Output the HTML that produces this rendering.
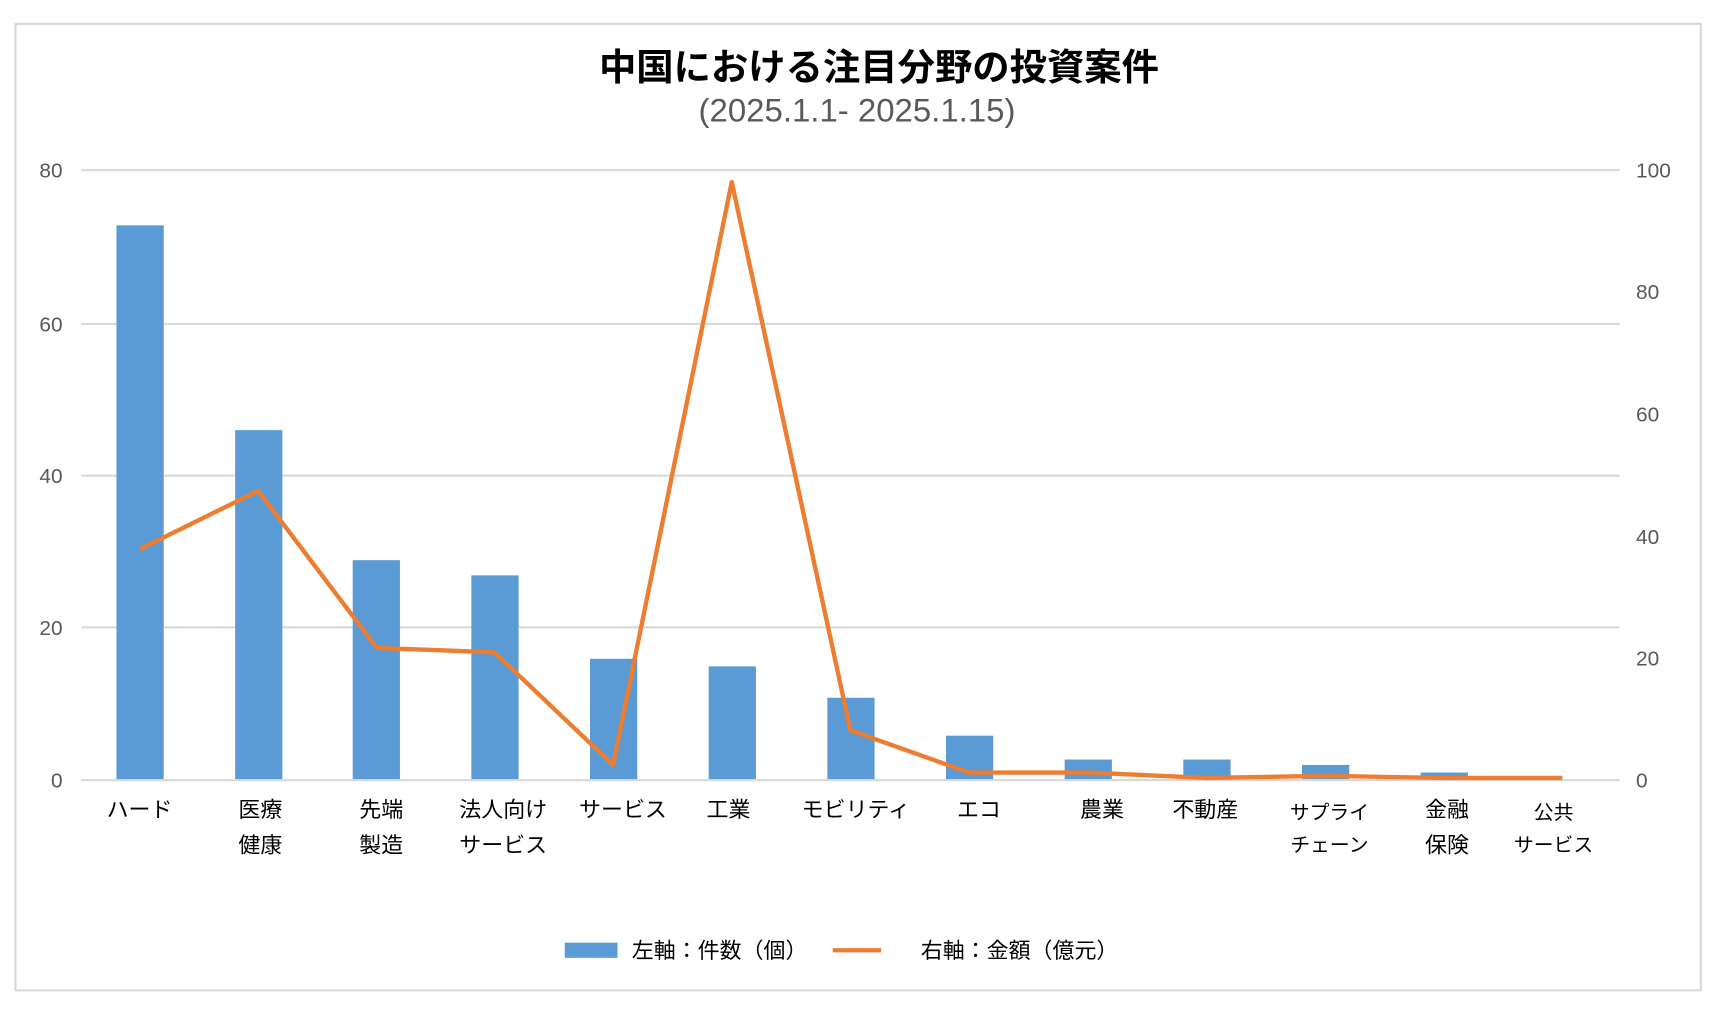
<!DOCTYPE html>
<html><head><meta charset="utf-8"><style>
html,body{margin:0;padding:0;background:#fff;}
svg{display:block;}
text{font-family:"Liberation Sans","Noto Sans CJK JP",sans-serif;}
</style></head><body>
<svg width="1714" height="1012" viewBox="0 0 1560 934" preserveAspectRatio="none" xmlns="http://www.w3.org/2000/svg">
<rect x="14" y="22" width="1534" height="892" fill="#fff" stroke="#d9d9d9" stroke-width="2"/>
<text x="800" y="74" text-anchor="middle" font-size="34" font-weight="bold" fill="#000">中国における注目分野の投資案件</text>
<text x="780" y="112" text-anchor="middle" font-size="30" fill="#595959">(2025.1.1- 2025.1.15)</text>
<g stroke="#d9d9d9" stroke-width="2">
<line x1="74" x2="1474" y1="157" y2="157"/>
<line x1="74" x2="1474" y1="299" y2="299"/>
<line x1="74" x2="1474" y1="439" y2="439"/>
<line x1="74" x2="1474" y1="579" y2="579"/>
<line x1="74" x2="1474" y1="720" y2="720"/>
</g>
<g font-size="19" fill="#595959" text-anchor="end">
<text x="57" y="164">80</text><text x="57" y="306">60</text><text x="57" y="446">40</text><text x="57" y="586">20</text><text x="57" y="727">0</text>
</g>
<g font-size="19" fill="#595959" text-anchor="start">
<text x="1489" y="164">100</text><text x="1489" y="276">80</text><text x="1489" y="389">60</text><text x="1489" y="502">40</text><text x="1489" y="614">20</text><text x="1489" y="727">0</text>
</g>
<g fill="#5b9bd5">
<rect x="106" y="208" width="43" height="511"/>
<rect x="214" y="397" width="43" height="322"/>
<rect x="321" y="517" width="43" height="202"/>
<rect x="429" y="531" width="43" height="188"/>
<rect x="537" y="608" width="43" height="111"/>
<rect x="645" y="615" width="43" height="104"/>
<rect x="753" y="644" width="43" height="75"/>
<rect x="861" y="679" width="43" height="40"/>
<rect x="969" y="701" width="43" height="18"/>
<rect x="1077" y="701" width="43" height="18"/>
<rect x="1185" y="706" width="43" height="13"/>
<rect x="1293" y="713" width="43" height="6"/>
</g>
<polyline fill="none" stroke="#ed7d31" stroke-width="4" stroke-linejoin="round" points="127,507 235,453 343,598 450,602 558,706 666,168 774,674 882,713 991,713 1098,718 1206,716 1314,718 1422,718"/>
<g font-size="20" fill="#000" text-anchor="middle">
<text x="127" y="754">ハード</text>
<text x="237" y="754">医療</text><text x="237" y="787">健康</text>
<text x="347" y="754">先端</text><text x="347" y="787">製造</text>
<text x="458" y="754">法人向け</text><text x="458" y="787">サービス</text>
<text x="567" y="754">サービス</text>
<text x="663" y="754">工業</text>
<text x="779" y="754">モビリティ</text>
<text x="891" y="754">エコ</text>
<text x="1003" y="754">農業</text>
<text x="1097" y="754">不動産</text>
<text x="1210" y="756" font-size="18">サプライ</text><text x="1210" y="786" font-size="18">チェーン</text>
<text x="1317" y="754">金融</text><text x="1317" y="787">保険</text>
<text x="1414" y="756" font-size="18">公共</text><text x="1414" y="786" font-size="18">サービス</text>
</g>
<rect x="514" y="870" width="48" height="14" fill="#5b9bd5"/>
<text x="575" y="884" font-size="20" fill="#000">左軸：件数（個）</text>
<line x1="758" x2="802" y1="877" y2="877" stroke="#ed7d31" stroke-width="4"/>
<text x="838" y="884" font-size="20" fill="#000">右軸：金額（億元）</text>
</svg>
</body></html>
